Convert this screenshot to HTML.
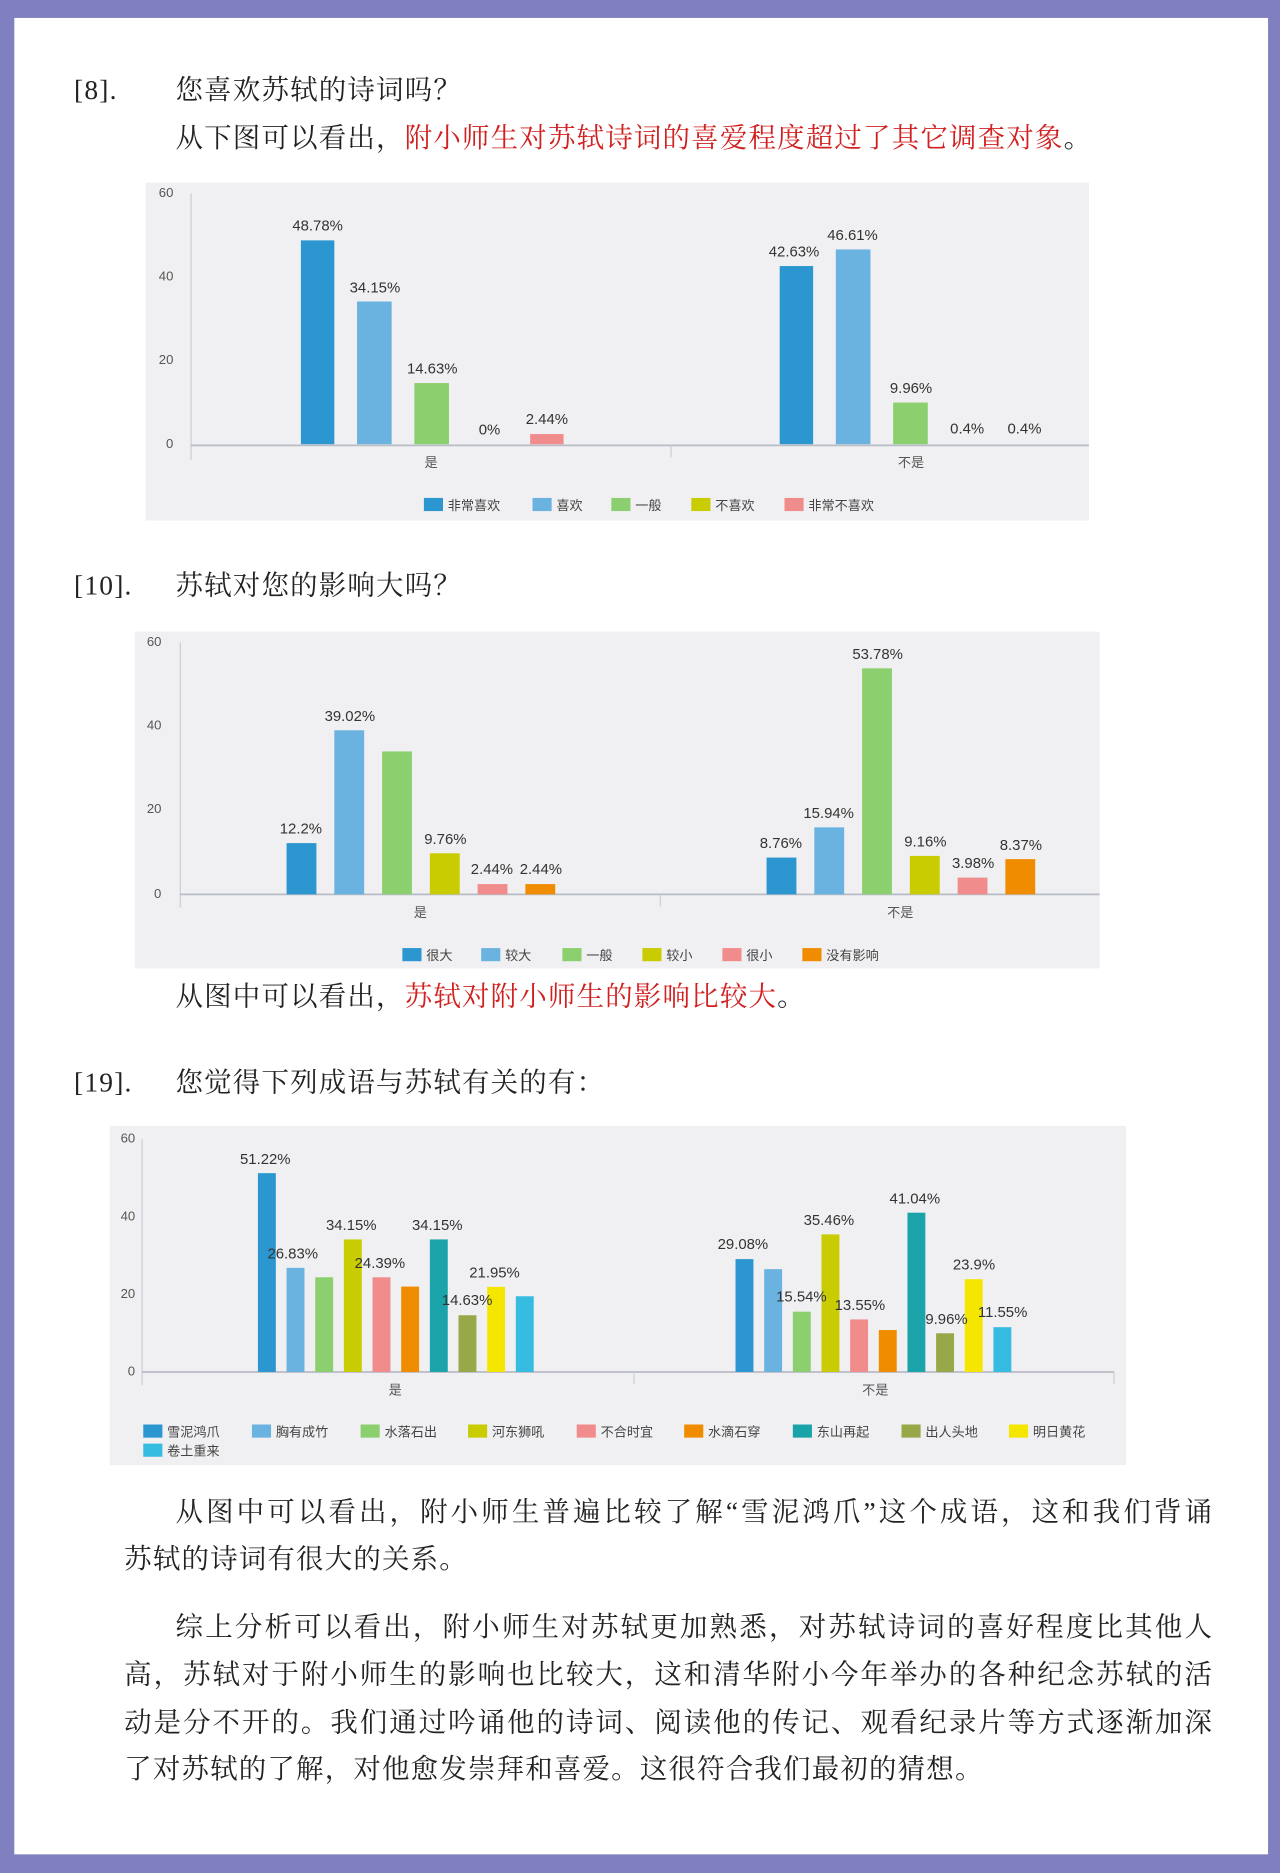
<!DOCTYPE html>
<html><head><meta charset="utf-8"><style>
html,body{margin:0;padding:0;background:#8080c0;}
svg{display:block;}
.t{font-family:"Liberation Serif","Noto Serif CJK SC",serif;font-size:23px;letter-spacing:1px;fill:#222;}
.r{fill:#d02020;}
.v{font-family:"Liberation Sans","Noto Sans CJK SC",sans-serif;font-size:12.5px;fill:#333;}
.a{font-family:"Liberation Sans","Noto Sans CJK SC",sans-serif;font-size:11px;fill:#555;}
.l{font-family:"Liberation Sans","Noto Sans CJK SC",sans-serif;font-size:11px;fill:#444;}
</style></head><body>
<svg width="1280" height="1873" viewBox="0 0 1072 1568.6" xmlns="http://www.w3.org/2000/svg">
<rect x="0" y="0" width="1072" height="1569" fill="#8080c0"/>
<rect x="12" y="15" width="1050" height="1538" fill="#fff"/>

<text class="t" x="62" y="83">[8].</text>
<text class="t" x="147" y="83">您喜欢苏轼的诗词吗？</text>
<text class="t" x="147" y="123">从下图可以看出，<tspan class="r">附小师生对苏轼诗词的喜爱程度超过了其它调查对象</tspan>。</text>

<!-- chart 1 -->
<rect x="122" y="153" width="790" height="283" fill="#f0f0f2"/>
<g class="a"><text x="133" y="165">60</text><text x="133" y="235">40</text><text x="133" y="305">20</text><text x="139" y="375">0</text></g>
<line x1="160" y1="162" x2="160" y2="385" stroke="#c8ccd4"/>
<line x1="160" y1="373" x2="912" y2="373" stroke="#b8bcc4" stroke-width="1.5"/>
<line x1="562" y1="373" x2="562" y2="383" stroke="#c8ccd4"/>
<text class="a" x="361" y="391" text-anchor="middle">是</text>
<text class="a" x="763" y="391" text-anchor="middle">不是</text>
<rect x="252" y="201.3" width="28" height="170.7" fill="#2b96d0"/>
<rect x="299" y="252.5" width="29" height="119.5" fill="#6ab2e0"/>
<rect x="347" y="320.8" width="29" height="51.2" fill="#8ccf6e"/>
<rect x="444" y="363.5" width="28" height="8.5" fill="#f08c8c"/>
<rect x="653" y="222.8" width="28" height="149.2" fill="#2b96d0"/>
<rect x="700" y="208.9" width="29" height="163.1" fill="#6ab2e0"/>
<rect x="748" y="337.1" width="29" height="34.9" fill="#8ccf6e"/>
<g class="v" text-anchor="middle">
<text x="266" y="193">48.78%</text><text x="314" y="245">34.15%</text><text x="362" y="313">14.63%</text>
<text x="410" y="364">0%</text><text x="458" y="355">2.44%</text>
<text x="665" y="215">42.63%</text><text x="714" y="201">46.61%</text><text x="763" y="329">9.96%</text>
<text x="810" y="363">0.4%</text><text x="858" y="363">0.4%</text></g>
<g class="l">
<rect x="355" y="417" width="16" height="11" fill="#2b96d0"/><text x="375" y="427">非常喜欢</text>
<rect x="446" y="417" width="16" height="11" fill="#6ab2e0"/><text x="466" y="427">喜欢</text>
<rect x="512" y="417" width="16" height="11" fill="#8ccf6e"/><text x="532" y="427">一般</text>
<rect x="579" y="417" width="16" height="11" fill="#c8cc00"/><text x="599" y="427">不喜欢</text>
<rect x="657" y="417" width="16" height="11" fill="#f08c8c"/><text x="677" y="427">非常不喜欢</text></g>

<text class="t" x="62" y="498">[10].</text>
<text class="t" x="147" y="498">苏轼对您的影响大吗？</text>

<!-- chart 2 -->
<rect x="113" y="529" width="808" height="282" fill="#f0f0f2"/>
<g class="a"><text x="123" y="541">60</text><text x="123" y="611">40</text><text x="123" y="681">20</text><text x="129" y="752">0</text></g>
<line x1="151" y1="538" x2="151" y2="760" stroke="#c8ccd4"/>
<line x1="151" y1="749" x2="921" y2="749" stroke="#b8bcc4" stroke-width="1.5"/>
<line x1="553" y1="749" x2="553" y2="759" stroke="#c8ccd4"/>
<text class="a" x="352" y="768" text-anchor="middle">是</text>
<text class="a" x="754" y="768" text-anchor="middle">不是</text>
<rect x="240" y="706.1" width="25" height="42.9" fill="#2b96d0"/>
<rect x="280" y="611.6" width="25" height="137.4" fill="#6ab2e0"/>
<rect x="320" y="629.3" width="25" height="119.7" fill="#8ccf6e"/>
<rect x="360" y="714.6" width="25" height="34.4" fill="#c8cc00"/>
<rect x="400" y="740.4" width="25" height="8.6" fill="#f08c8c"/>
<rect x="440" y="740.4" width="25" height="8.6" fill="#f08c00"/>
<rect x="642" y="718.2" width="25" height="30.8" fill="#2b96d0"/>
<rect x="682" y="692.9" width="25" height="56.1" fill="#6ab2e0"/>
<rect x="722" y="559.7" width="25" height="189.3" fill="#8ccf6e"/>
<rect x="762" y="716.8" width="25" height="32.2" fill="#c8cc00"/>
<rect x="802" y="735" width="25" height="14" fill="#f08c8c"/>
<rect x="842" y="719.5" width="25" height="29.5" fill="#f08c00"/>
<g class="v" text-anchor="middle">
<text x="252" y="698">12.2%</text><text x="293" y="604">39.02%</text><text x="373" y="707">9.76%</text>
<text x="412" y="732">2.44%</text><text x="453" y="732">2.44%</text>
<text x="654" y="710">8.76%</text><text x="694" y="685">15.94%</text><text x="735" y="552">53.78%</text>
<text x="775" y="709">9.16%</text><text x="815" y="727">3.98%</text><text x="855" y="712">8.37%</text></g>
<g class="l">
<rect x="337" y="794" width="16" height="11" fill="#2b96d0"/><text x="357" y="804">很大</text>
<rect x="403" y="794" width="16" height="11" fill="#6ab2e0"/><text x="423" y="804">较大</text>
<rect x="471" y="794" width="16" height="11" fill="#8ccf6e"/><text x="491" y="804">一般</text>
<rect x="538" y="794" width="16" height="11" fill="#c8cc00"/><text x="558" y="804">较小</text>
<rect x="605" y="794" width="16" height="11" fill="#f08c8c"/><text x="625" y="804">很小</text>
<rect x="672" y="794" width="16" height="11" fill="#f08c00"/><text x="692" y="804">没有影响</text></g>

<text class="t" x="147" y="842">从图中可以看出，<tspan class="r">苏轼对附小师生的影响比较大</tspan>。</text>

<text class="t" x="62" y="914">[19].</text>
<text class="t" x="147" y="914">您觉得下列成语与苏轼有关的有：</text>

<!-- chart 3 -->
<rect x="92" y="943" width="851" height="284" fill="#f0f0f2"/>
<g class="a"><text x="101" y="957">60</text><text x="101" y="1022">40</text><text x="101" y="1087">20</text><text x="107" y="1152">0</text></g>
<line x1="119" y1="954" x2="119" y2="1160" stroke="#c8ccd4"/>
<line x1="119" y1="1149" x2="933" y2="1149" stroke="#b8bcc4" stroke-width="1.5"/>
<line x1="531" y1="1149" x2="531" y2="1159" stroke="#c8ccd4"/>
<line x1="933" y1="1149" x2="933" y2="1159" stroke="#c8ccd4"/>
<text class="a" x="331" y="1168" text-anchor="middle">是</text>
<text class="a" x="733" y="1168" text-anchor="middle">不是</text>
<rect x="216" y="982.5" width="15" height="166.5" fill="#2b96d0"/>
<rect x="240" y="1061.8" width="15" height="87.2" fill="#6ab2e0"/>
<rect x="264" y="1069.7" width="15" height="79.3" fill="#8ccf6e"/>
<rect x="288" y="1038" width="15" height="111" fill="#c8cc00"/>
<rect x="312" y="1069.7" width="15" height="79.3" fill="#f08c8c"/>
<rect x="336" y="1077.5" width="15" height="71.5" fill="#f08c00"/>
<rect x="360" y="1038" width="15" height="111" fill="#1aa3a8"/>
<rect x="384" y="1101.5" width="15" height="47.5" fill="#96a848"/>
<rect x="408" y="1077.7" width="15" height="71.3" fill="#f5e600"/>
<rect x="432" y="1085.6" width="15" height="63.4" fill="#36bce0"/>
<rect x="616" y="1054.5" width="15" height="94.5" fill="#2b96d0"/>
<rect x="640" y="1062.9" width="15" height="86.1" fill="#6ab2e0"/>
<rect x="664" y="1098.5" width="15" height="50.5" fill="#8ccf6e"/>
<rect x="688" y="1033.8" width="15" height="115.2" fill="#c8cc00"/>
<rect x="712" y="1105" width="15" height="44" fill="#f08c8c"/>
<rect x="736" y="1113.9" width="15" height="35.1" fill="#f08c00"/>
<rect x="760" y="1015.6" width="15" height="133.4" fill="#1aa3a8"/>
<rect x="784" y="1116.6" width="15" height="32.4" fill="#96a848"/>
<rect x="808" y="1071.3" width="15" height="77.7" fill="#f5e600"/>
<rect x="832" y="1111.5" width="15" height="37.5" fill="#36bce0"/>
<g class="v">
<text x="201" y="975">51.22%</text><text x="224" y="1054">26.83%</text><text x="273" y="1030">34.15%</text>
<text x="297" y="1062">24.39%</text><text x="345" y="1030">34.15%</text><text x="370" y="1093">14.63%</text>
<text x="393" y="1070">21.95%</text>
<text x="601" y="1046">29.08%</text><text x="673" y="1026">35.46%</text><text x="650" y="1090">15.54%</text>
<text x="699" y="1097">13.55%</text><text x="745" y="1008">41.04%</text><text x="775" y="1109">9.96%</text>
<text x="798" y="1063">23.9%</text><text x="819" y="1103">11.55%</text></g>
<g class="l">
<rect x="120" y="1193" width="16" height="11" fill="#2b96d0"/><text x="140" y="1203">雪泥鸿爪</text>
<rect x="211" y="1193" width="16" height="11" fill="#6ab2e0"/><text x="231" y="1203">胸有成竹</text>
<rect x="302" y="1193" width="16" height="11" fill="#8ccf6e"/><text x="322" y="1203">水落石出</text>
<rect x="392" y="1193" width="16" height="11" fill="#c8cc00"/><text x="412" y="1203">河东狮吼</text>
<rect x="483" y="1193" width="16" height="11" fill="#f08c8c"/><text x="503" y="1203">不合时宜</text>
<rect x="573" y="1193" width="16" height="11" fill="#f08c00"/><text x="593" y="1203">水滴石穿</text>
<rect x="664" y="1193" width="16" height="11" fill="#1aa3a8"/><text x="684" y="1203">东山再起</text>
<rect x="755" y="1193" width="16" height="11" fill="#96a848"/><text x="775" y="1203">出人头地</text>
<rect x="845" y="1193" width="16" height="11" fill="#f5e600"/><text x="865" y="1203">明日黄花</text>
<rect x="120" y="1209" width="16" height="11" fill="#36bce0"/><text x="140" y="1219">卷土重来</text></g>

<text class="t" x="147" y="1274" textLength="869" lengthAdjust="spacing">从图中可以看出，附小师生普遍比较了解“雪泥鸿爪”这个成语，这和我们背诵</text>
<text class="t" x="104" y="1313">苏轼的诗词有很大的关系。</text>
<text class="t" x="147" y="1370" textLength="869" lengthAdjust="spacing">综上分析可以看出，附小师生对苏轼更加熟悉，对苏轼诗词的喜好程度比其他人</text>
<text class="t" x="104" y="1410" textLength="912" lengthAdjust="spacing">高，苏轼对于附小师生的影响也比较大，这和清华附小今年举办的各种纪念苏轼的活</text>
<text class="t" x="104" y="1450" textLength="912" lengthAdjust="spacing">动是分不开的。我们通过吟诵他的诗词、阅读他的传记、观看纪录片等方式逐渐加深</text>
<text class="t" x="104" y="1489">了对苏轼的了解，对他愈发崇拜和喜爱。这很符合我们最初的猜想。</text>
</svg>
</body></html>
